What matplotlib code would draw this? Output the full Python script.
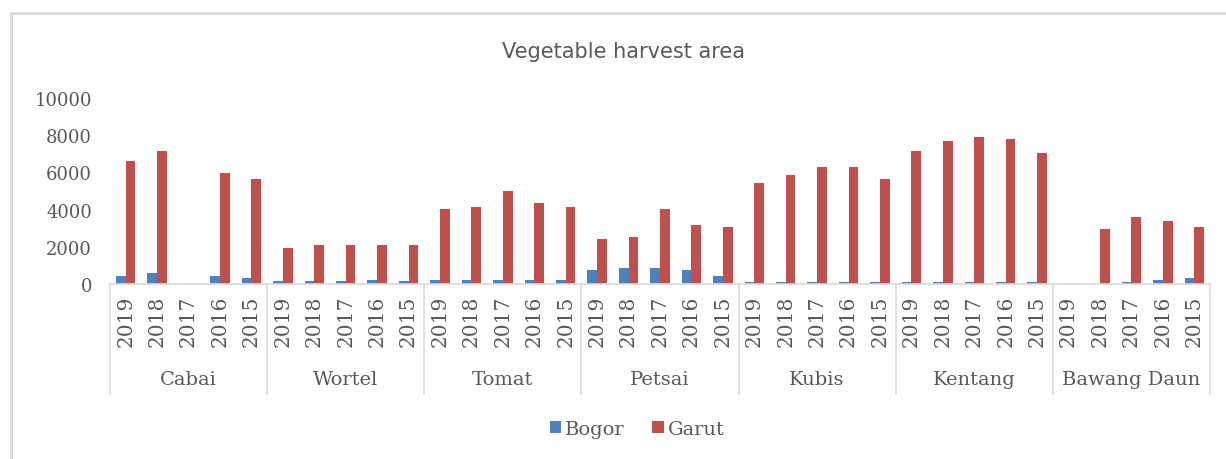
import matplotlib
matplotlib.use("Agg")
import matplotlib.pyplot as plt
from matplotlib.lines import Line2D
import numpy as np

groups = ["Cabai", "Wortel", "Tomat", "Petsai", "Kubis", "Kentang", "Bawang Daun"]
years = ["2019", "2018", "2017", "2016", "2015"]

bogor = [
    450, 575, 0, 450, 340,        # Cabai
    145, 145, 145, 230, 145,      # Wortel
    230, 230, 230, 230, 230,      # Tomat
    770, 880, 880, 770, 450,      # Petsai
    120, 120, 120, 120, 120,      # Kubis
    120, 120, 120, 120, 120,      # Kentang
    0, 0, 120, 230, 340,          # Bawang Daun
]
garut = [
    6630, 7170, 0, 5950, 5645,
    1950, 2080, 2080, 2080, 2080,
    4015, 4140, 4980, 4335, 4140,
    2400, 2510, 4015, 3155, 3050,
    5430, 5860, 6290, 6290, 5645,
    7170, 7710, 7920, 7815, 7060,
    0, 2940, 3585, 3370, 3050,
]

blue = "#4F81BD"
red = "#C0504D"
txt = "#595959"
linec = "#D9D9D9"

fig = plt.figure(figsize=(12.26, 4.6), dpi=100)
# partial chart frame (top and left edges visible)
fig.lines.append(Line2D([11 / 1226, 1.0], [1 - 14 / 460, 1 - 14 / 460],
                        transform=fig.transFigure, color="#D9D9D9", lw=2))
fig.lines.append(Line2D([11 / 1226, 11 / 1226], [0, 1 - 14 / 460],
                        transform=fig.transFigure, color="#D9D9D9", lw=2))

ax = fig.add_axes([110 / 1226, 175 / 460, 1100 / 1226, 186 / 460])
n = len(bogor)
x = np.arange(n)
w = 0.31
ax.bar(x - w / 2, bogor, width=w, color=blue, label="Bogor")
ax.bar(x + w / 2, garut, width=w, color=red, label="Garut")

ax.set_xlim(-0.5, n - 0.5)
ax.set_ylim(0, 10000)
ax.set_yticks(range(0, 10001, 2000))
ax.tick_params(axis="y", length=0, labelsize=13, labelcolor=txt, pad=13)
for lab in ax.get_yticklabels():
    lab.set_family("DejaVu Serif")
ax.set_xticks([])
for s in ["top", "right", "left"]:
    ax.spines[s].set_visible(False)
ax.spines["bottom"].set_color(linec)
ax.spines["bottom"].set_linewidth(1.2)

tr = ax.get_xaxis_transform()
ny = len(years)
for i in range(n):
    ax.text(i, -0.055, years[i % ny], rotation=90, ha="center", va="top",
            transform=tr, fontsize=14.5, family="DejaVu Serif", color=txt,
            clip_on=False)
for g, name in enumerate(groups):
    ax.text(g * ny + (ny - 1) / 2, -0.51, name, ha="center", va="center",
            transform=tr, fontsize=14, family="DejaVu Serif", color=txt,
            clip_on=False)
for b in range(len(groups) + 1):
    xb = b * ny - 0.5
    ax.plot([xb, xb], [0, -0.59], transform=tr, color=linec, lw=1.2,
            clip_on=False)

fig.text(623 / 1226, 1 - 52 / 460, "Vegetable harvest area", ha="center",
         va="center", fontsize=15, color=txt, family="DejaVu Sans")

leg = fig.legend(loc="center", bbox_to_anchor=(637 / 1226, 1 - 430 / 460),
                 ncol=2, frameon=False, handlelength=0.6, handleheight=0.6,
                 handletextpad=0.2, columnspacing=1.4,
                 prop={"family": "DejaVu Serif", "size": 14})
for t in leg.get_texts():
    t.set_color(txt)

fig.savefig("out.png", dpi=100)
